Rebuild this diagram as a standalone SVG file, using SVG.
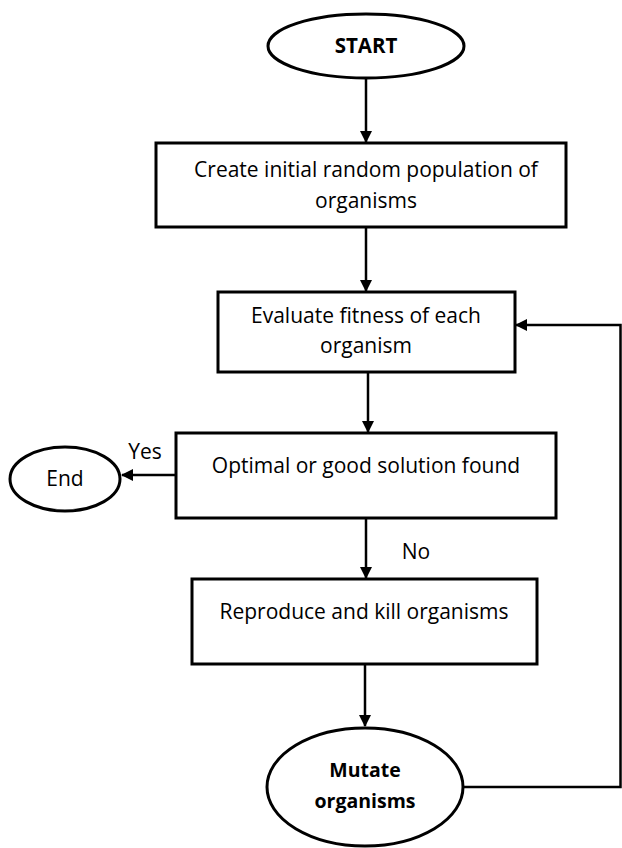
<svg xmlns="http://www.w3.org/2000/svg" width="622" height="848" viewBox="0 0 622 848">
  <style>
    .box { fill: #ffffff; stroke: #000000; stroke-width: 3; }
    .term { fill: #ffffff; stroke: #000000; stroke-width: 3; }
    .lbl { font-family: "Open Sans", "Liberation Sans", Arial, sans-serif; font-size: 21px; fill: #000000; text-anchor: middle; }
    .bold { font-weight: bold; font-size: 19.5px; }
    .title { font-size: 20.5px; }
    .edge { fill: none; stroke: #000000; stroke-width: 2.5; }
  </style>
  <defs>
    <marker id="arrow" viewBox="0 0 12 12" refX="11" refY="6" markerWidth="12" markerHeight="12" markerUnits="userSpaceOnUse" orient="auto">
      <path d="M0,0 L12,6 L0,12 Z" fill="#000000"/>
    </marker>
  </defs>
  <rect width="622" height="848" fill="#ffffff"/>

  <g id="connectors">
    <line class="edge" x1="366" y1="79" x2="366" y2="142" marker-end="url(#arrow)"/>
    <line class="edge" x1="366" y1="228" x2="366" y2="291" marker-end="url(#arrow)"/>
    <line class="edge" x1="368" y1="373" x2="368" y2="432" marker-end="url(#arrow)"/>
    <line class="edge" x1="176" y1="475" x2="122" y2="475" marker-end="url(#arrow)"/>
    <line class="edge" x1="366" y1="519" x2="366" y2="578" marker-end="url(#arrow)"/>
    <line class="edge" x1="365" y1="665" x2="365" y2="726" marker-end="url(#arrow)"/>
    <polyline class="edge" points="463,787 620.5,787 620.5,325 516,325" marker-end="url(#arrow)"/>
    <text class="lbl" x="145" y="459">Yes</text>
    <text class="lbl" x="416" y="559">No</text>
  </g>

  <g id="start">
    <ellipse class="term" cx="366" cy="46" rx="98" ry="32"/>
    <text class="lbl bold title" x="366" y="53">START</text>
  </g>

  <g id="create">
    <rect class="box" x="156" y="143" width="410" height="84"/>
    <text class="lbl" x="366" y="177">Create initial random population of</text>
    <text class="lbl" x="366" y="208">organisms</text>
  </g>

  <g id="evaluate">
    <rect class="box" x="218" y="292" width="297" height="80"/>
    <text class="lbl" x="366" y="323">Evaluate fitness of each</text>
    <text class="lbl" x="366" y="353">organism</text>
  </g>

  <g id="check">
    <rect class="box" x="176" y="433" width="380" height="85"/>
    <text class="lbl" x="366" y="473">Optimal or good solution found</text>
  </g>

  <g id="end">
    <ellipse class="term" cx="65" cy="479" rx="55" ry="32"/>
    <text class="lbl" x="65" y="486">End</text>
  </g>

  <g id="reproduce">
    <rect class="box" x="192" y="579" width="345" height="85"/>
    <text class="lbl" x="364" y="619">Reproduce and kill organisms</text>
  </g>

  <g id="mutate">
    <ellipse class="term" cx="365" cy="787" rx="98" ry="59"/>
    <text class="lbl bold" x="365" y="777">Mutate</text>
    <text class="lbl bold" x="365" y="808">organisms</text>
  </g>
</svg>
